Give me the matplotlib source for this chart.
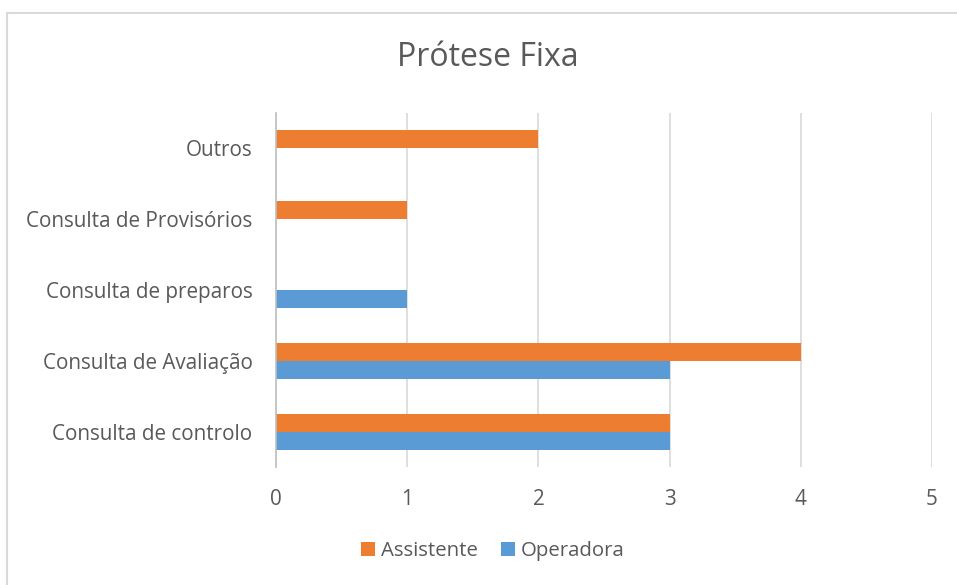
import matplotlib
matplotlib.use("Agg")
import matplotlib.pyplot as plt
import numpy as np
from matplotlib.patches import Rectangle

categories = ["Consulta de controlo", "Consulta de Avaliação", "Consulta de preparos",
              "Consulta de Provisórios", "Outros"]
assistente = [3, 4, 0, 1, 2]
operadora = [3, 3, 1, 0, 0]

plt.rcParams["font.family"] = ["Open Sans", "DejaVu Sans"]
text_color = "#595959"

fig = plt.figure(figsize=(9.57, 5.85), dpi=100)
ax = fig.add_axes([276 / 957, 1 - 467 / 585, (932 - 276) / 957, (467 - 113) / 585])

y = np.arange(len(categories))
h = 0.254
ax.barh(y + h / 2, assistente, height=h, color="#ED7D31", label="Assistente", zorder=3)
ax.barh(y - h / 2, operadora, height=h, color="#5B9BD5", label="Operadora", zorder=3)

ax.set_xlim(0, 5)
ax.set_ylim(-0.5, len(categories) - 0.5)
ax.set_xticks(range(6))
ax.set_yticks(y)
ax.set_yticklabels(categories)
ax.tick_params(axis="both", length=0, labelsize=14.9, colors=text_color)
ax.tick_params(axis="y", pad=17)
ax.tick_params(axis="x", pad=16)
ax.grid(axis="x", color="#D9D9D9", linewidth=1.2, zorder=0)
for s in ["top", "right", "bottom"]:
    ax.spines[s].set_visible(False)
ax.spines["left"].set_color("#BFBFBF")
ax.spines["left"].set_linewidth(1.2)
ax.spines["left"].set_zorder(4)

fig.text(488 / 957, 1 - 57 / 585, "Prótese Fixa", ha="center", va="center",
         fontsize=23, color=text_color)

fig.legend(loc="center", bbox_to_anchor=(493 / 957, 1 - 551 / 585), ncol=2, frameon=False,
           fontsize=14.7, handlelength=0.7, handleheight=0.7, handletextpad=0.3,
           columnspacing=1.1, labelcolor=text_color)

fig.patches.append(Rectangle((7 / 957, -0.1), 1.2, 1 - 13 / 585 + 0.1,
                             transform=fig.transFigure, fill=False,
                             edgecolor="#D9D9D9", linewidth=1.5))

fig.savefig("out.png", dpi=100)
plt.close(fig)
